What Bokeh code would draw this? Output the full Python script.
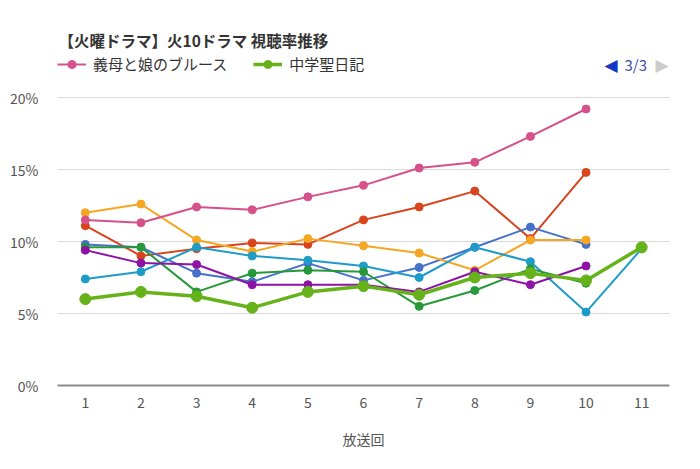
from bokeh.plotting import figure
from bokeh.models import (Range1d, FixedTicker, PrintfTickFormatter, Label,
                          Legend, LegendItem)
from bokeh.embed import file_html
from bokeh.resources import INLINE

FONT = "Noto Sans CJK JP"

episodes = [1, 2, 3, 4, 5, 6, 7, 8, 9, 10, 11]

# series values (%)
gibo = [11.5, 11.3, 12.4, 12.2, 13.1, 13.9, 15.1, 15.5, 17.3, 19.2]
chugaku = [6.0, 6.5, 6.2, 5.4, 6.5, 6.9, 6.3, 7.5, 7.8, 7.3, 9.6]
red_s = [11.1, 9.0, 9.5, 9.9, 9.8, 11.5, 12.4, 13.5, 10.2, 14.8]
blue_s = [9.8, 9.6, 7.8, 7.2, 8.5, 7.3, 8.2, 9.6, 11.0, 9.8]
orange_s = [12.0, 12.6, 10.1, 9.3, 10.2, 9.7, 9.2, 8.0, 10.1, 10.1]
cyan_s = [7.4, 7.9, 9.6, 9.0, 8.7, 8.3, 7.5, 9.6, 8.6, 5.1, 9.5]
dgreen_s = [9.6, 9.6, 6.5, 7.8, 8.0, 7.9, 5.5, 6.6, 8.1, 7.1]
purple_s = [9.4, 8.5, 8.4, 7.0, 7.0, 7.0, 6.5, 7.9, 7.0, 8.3]

y_ticks = [0, 5, 10, 15, 20]

title_text = "【火曜ドラマ】火10ドラマ 視聴率推移"
legend_names = ["義母と娘のブルース", "中学聖日記"]
x_title = "放送回"
pager_text = "3/3"

# plot area spans from the top of the page so that title/legend fit in it
y_top = 20 * 385 / 288

p = figure(width=692, height=461, output_backend="svg", toolbar_location=None,
           x_range=Range1d(0.5, 11.5), y_range=Range1d(0, y_top),
           min_border_left=57, min_border_right=23, min_border_top=0,
           min_border_bottom=76)
p.outline_line_color = None
p.background_fill_color = "white"
p.border_fill_color = "white"

p.xgrid.grid_line_color = None
p.ygrid.grid_line_color = "#d9d9d9"
p.ygrid.grid_line_width = 1
p.ygrid.ticker = FixedTicker(ticks=y_ticks)

p.xaxis.ticker = FixedTicker(ticks=episodes)
p.xaxis.major_tick_line_color = None
p.xaxis.minor_tick_line_color = None
p.xaxis.axis_line_color = "#8a8a8a"
p.xaxis.axis_line_width = 2
p.xaxis.major_label_text_font = FONT
p.xaxis.major_label_text_font_size = "14px"
p.xaxis.major_label_text_color = "#555555"
p.xaxis.major_label_standoff = 5
p.xaxis.axis_label = x_title
p.xaxis.axis_label_text_font = FONT
p.xaxis.axis_label_text_font_size = "14px"
p.xaxis.axis_label_text_font_style = "normal"
p.xaxis.axis_label_text_color = "#555555"
p.xaxis.axis_label_standoff = 18

p.yaxis.ticker = FixedTicker(ticks=y_ticks)
p.yaxis.formatter = PrintfTickFormatter(format="%d%%")
p.yaxis.major_tick_line_color = None
p.yaxis.minor_tick_line_color = None
p.yaxis.axis_line_color = None
p.yaxis.major_label_text_font = FONT
p.yaxis.major_label_text_font_size = "14px"
p.yaxis.major_label_text_color = "#555555"
p.yaxis.major_label_standoff = 13

series = [
    (red_s, "#d9441c", 2, 8),
    (blue_s, "#4472ca", 2, 8),
    (orange_s, "#f5a623", 2, 8),
    (cyan_s, "#1e9cc7", 2, 8),
    (dgreen_s, "#27993a", 2, 8),
    (purple_s, "#8e12a5", 2, 8),
    (gibo, "#d6508a", 2, 8),
    (chugaku, "#66b21a", 3.5, 11),
]
renderers = []
for vals, col, lw, ms in series:
    xs = episodes[:len(vals)]
    l = p.line(xs, vals, line_color=col, line_width=lw)
    c = p.scatter(xs, vals, size=ms, fill_color=col, line_color=col)
    renderers.append((l, c))

legend = Legend(items=[
    LegendItem(label=legend_names[0], renderers=list(renderers[6])),
    LegendItem(label=legend_names[1], renderers=list(renderers[7])),
], location=(0, 311), orientation="horizontal")
legend.background_fill_alpha = 0
legend.border_line_color = None
legend.padding = 0
legend.margin = 0
legend.glyph_width = 29
legend.glyph_height = 20
legend.label_standoff = 7
legend.spacing = 26
legend.label_text_font = FONT
legend.label_text_font_size = "15px"
legend.label_text_color = "#333333"
legend.label_text_baseline = "middle"
p.add_layout(legend, "center")

# title
p.add_layout(Label(x=1, y=346, x_units="screen", y_units="screen",
                   text=title_text, text_font=FONT, text_font_size="15.5px",
                   text_font_style="bold", text_color="#333333",
                   text_baseline="middle", text_align="left"))

# pager
p.add_layout(Label(x=547, y=321, x_units="screen", y_units="screen",
                   text="◀", text_font="DejaVu Sans", text_font_size="17px",
                   text_color="#1438c8", text_baseline="middle"))
p.add_layout(Label(x=567, y=321, x_units="screen", y_units="screen",
                   text=pager_text, text_font=FONT, text_font_size="15px",
                   text_color="#3b4ea8", text_baseline="middle"))
p.add_layout(Label(x=598, y=321, x_units="screen", y_units="screen",
                   text="▶", text_font="DejaVu Sans", text_font_size="17px",
                   text_color="#cccccc", text_baseline="middle"))

open("out.html", "w").write(file_html(p, INLINE))
